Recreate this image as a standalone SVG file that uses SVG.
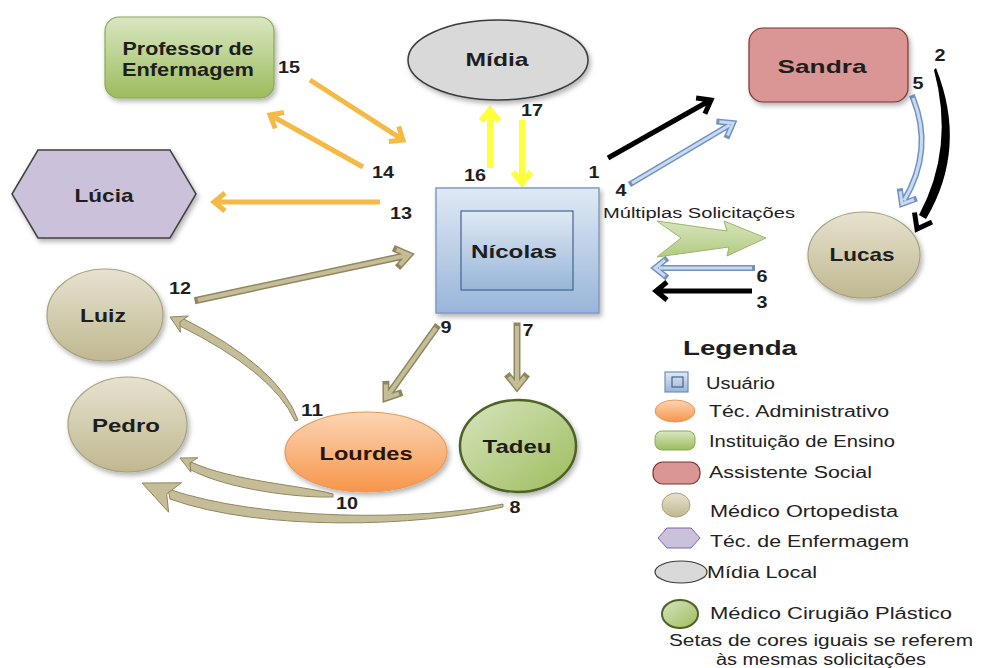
<svg xmlns="http://www.w3.org/2000/svg" width="987" height="668" viewBox="0 0 987 668">
<defs>
  <linearGradient id="gGreen" x1="0" y1="0" x2="0" y2="1"><stop offset="0" stop-color="#d9e7c1"/><stop offset="1" stop-color="#9cbc5d"/></linearGradient>
  <linearGradient id="gBlue" x1="0" y1="0" x2="0" y2="1"><stop offset="0" stop-color="#e0e9f4"/><stop offset="1" stop-color="#98b5d9"/></linearGradient>
  <linearGradient id="gKhaki" x1="0" y1="0" x2="0" y2="1"><stop offset="0" stop-color="#e6e2cf"/><stop offset="1" stop-color="#c0b890"/></linearGradient>
  <linearGradient id="gOrange" x1="0" y1="0" x2="0" y2="1"><stop offset="0" stop-color="#fdd5b3"/><stop offset="1" stop-color="#f7954a"/></linearGradient>
  <linearGradient id="gTadeu" x1="0" y1="0" x2="1" y2="1"><stop offset="0" stop-color="#d7e5bf"/><stop offset="1" stop-color="#9dbc5c"/></linearGradient>
  <linearGradient id="gMulti" x1="0" y1="0" x2="0" y2="1"><stop offset="0" stop-color="#d6e4bb"/><stop offset="1" stop-color="#b2cb80"/></linearGradient>
  <filter id="sh" x="-20%" y="-20%" width="150%" height="150%">
    <feDropShadow dx="2" dy="3" stdDeviation="2.5" flood-color="#000" flood-opacity="0.3"/>
  </filter>

  <!-- connector geometry, reused for outlined (double) strokes -->
  <path id="a4" d="M632,183 L729.6,125 M727.6,135.5 L733,123 L719.4,121.7"/>
  <path id="a6" d="M752,268 L659,268 M665,260 L655,268 L665,276"/>
  <path id="a5" d="M913,98 Q934,150 904,200.6 M914,199.5 L902,204 L900.2,191.3"/>
  <path id="a12" d="M198,300 L405,255.8 M399.9,265.1 L409,255 L396.5,249.5"/>
  <path id="a9" d="M436,328 L388.3,394.7 M398.9,393.6 L386,398 L385.9,384.4"/>
  <path id="a7" d="M517,326 L517,383 M509,377 L517,387 L525,377"/>
</defs>
<style>
  text { font-family: "Liberation Sans", Arial, sans-serif; fill: #1e1e1e; }
  .nl { font-size: 19px; font-weight: bold; text-anchor: middle; }
  .num { font-size: 16px; font-weight: bold; text-anchor: middle; }
  .lg { font-size: 16px; fill: #222; }
  .or { fill: none; stroke: #f5b945; stroke-width: 5; stroke-linejoin: miter; }
  .ye { fill: none; stroke: #ffff3c; stroke-width: 6; stroke-linejoin: miter; }
  .bk { fill: none; stroke: #000; stroke-width: 5; stroke-linejoin: miter; }
  .bo { fill: none; stroke: #7193bf; stroke-width: 6; stroke-linecap: square; stroke-linejoin: miter; }
  .bi { fill: none; stroke: #c8daf0; stroke-width: 3; stroke-linejoin: miter; }
  .ko { fill: none; stroke: #8f875f; stroke-width: 7; stroke-linecap: square; stroke-linejoin: miter; }
  .ki { fill: none; stroke: #c4bd97; stroke-width: 4; stroke-linejoin: miter; }
  .kf { fill: #c4bd97; stroke: #8f875f; stroke-width: 1; }
  .khaki { fill: url(#gKhaki); stroke: #a8a17b; stroke-width: 1.2; filter: url(#sh); }
</style>

<rect width="987" height="668" fill="#ffffff"/>

<!-- connectors -->
<g id="connectors">
  <!-- orange: 13, 14, 15 -->
  <path class="or" d="M310,80 L401,138.7 M388.9,141.6 L403,140 L398.7,126.4"/>
  <path class="or" d="M363,167 L272,116 M284,112.5 L270,115 L275.2,128.3"/>
  <path class="or" d="M380,202 L216,202 M225,193 L214,202 L225,211"/>
  <!-- yellow: 16, 17 -->
  <path class="ye" d="M490,168 L490,112 M481,121 L490,110 L499,121"/>
  <path class="ye" d="M522,120 L522,181 M513,172 L522,183 L531,172"/>
  <!-- black: 1, 2, 3 -->
  <path class="bk" d="M608,158 L709,101 M704.9,113.7 L711,100 L696.1,98.1"/>
  <path fill="#000" d="M936,68 Q968,148 926,219 L919,215 Q955,148 934,70 Z"/>
  <path class="bk" d="M932,222 L917,229 L914.5,212.5"/>
  <path class="bk" d="M752,291 L658,291 M667,282 L656,291 L667,300"/>
  <!-- light blue: 4, 5, 6 -->
  <use href="#a4" class="bo"/><use href="#a4" class="bi"/>
  <use href="#a5" class="bo"/><use href="#a5" class="bi"/>
  <use href="#a6" class="bo"/><use href="#a6" class="bi"/>
  <!-- khaki straight: 7, 9, 12 -->
  <use href="#a12" class="ko"/><use href="#a12" class="ki"/>
  <use href="#a9" class="ko"/><use href="#a9" class="ki"/>
  <use href="#a7" class="ko"/><use href="#a7" class="ki"/>
  <!-- khaki curved: 11, 10, 8 -->
  <path class="kf" d="M298,420 Q279,367 182,318 L178,325 Q273,372 295,421 Z"/>
  <path class="kf" d="M170,317 L188.4,316 L179.9,321.9 L180.4,332.2 Z"/>
  <path class="kf" d="M333,494 C300,485 232,481 191,462 L189,469 C228,490 300,498 333,497 Z"/>
  <path class="kf" d="M180,458 L197.9,457.8 L189.9,462.8 L190.9,472.2 Z"/>
  <path class="kf" d="M503,504 C420,521 262,521 168,489 L170,499 C262,532 420,527 503,507 Z"/>
  <path class="kf" d="M142,483 L181.4,482.8 L166.7,493.9 L168.6,512.2 Z"/>
  <!-- multiple requests -->
  <polygon points="657,221 727,231 724,221 766,238 727,256 729,247 657,257 681,238" fill="url(#gMulti)" stroke="#9db56c" stroke-width="1"/>
  <text x="603" y="218" font-size="14" textLength="192" lengthAdjust="spacingAndGlyphs">Múltiplas Solicitações</text>
  <!-- request numbers -->
  <text class="num" x="289" y="73" textLength="22" lengthAdjust="spacingAndGlyphs">15</text>
  <text class="num" x="383" y="178" textLength="22" lengthAdjust="spacingAndGlyphs">14</text>
  <text class="num" x="401" y="219" textLength="22" lengthAdjust="spacingAndGlyphs">13</text>
  <text class="num" x="475" y="181" textLength="22" lengthAdjust="spacingAndGlyphs">16</text>
  <text class="num" x="532" y="116" textLength="22" lengthAdjust="spacingAndGlyphs">17</text>
  <text class="num" x="594" y="178" textLength="11" lengthAdjust="spacingAndGlyphs">1</text>
  <text class="num" x="621" y="196" textLength="11" lengthAdjust="spacingAndGlyphs">4</text>
  <text class="num" x="940" y="61" textLength="11" lengthAdjust="spacingAndGlyphs">2</text>
  <text class="num" x="918" y="89" textLength="11" lengthAdjust="spacingAndGlyphs">5</text>
  <text class="num" x="762" y="282" textLength="11" lengthAdjust="spacingAndGlyphs">6</text>
  <text class="num" x="762" y="308" textLength="11" lengthAdjust="spacingAndGlyphs">3</text>
  <text class="num" x="180" y="294" textLength="22" lengthAdjust="spacingAndGlyphs">12</text>
  <text class="num" x="446" y="333" textLength="11" lengthAdjust="spacingAndGlyphs">9</text>
  <text class="num" x="528" y="336" textLength="11" lengthAdjust="spacingAndGlyphs">7</text>
  <text class="num" x="312" y="416" textLength="22" lengthAdjust="spacingAndGlyphs">11</text>
  <text class="num" x="347" y="509" textLength="22" lengthAdjust="spacingAndGlyphs">10</text>
  <text class="num" x="515" y="513" textLength="11" lengthAdjust="spacingAndGlyphs">8</text>
</g>

<!-- nodes -->
<g id="professor">
  <rect x="105" y="17" width="169" height="81" rx="14" fill="url(#gGreen)" stroke="#8aa957" stroke-width="1.2" filter="url(#sh)"/>
  <text class="nl" x="188" y="55" font-size="18" textLength="131" lengthAdjust="spacingAndGlyphs">Professor de</text>
  <text class="nl" x="188" y="76" font-size="18" textLength="132" lengthAdjust="spacingAndGlyphs">Enfermagem</text>
</g>
<g id="midia">
  <ellipse cx="498" cy="60" rx="90" ry="40" fill="#d9d9d9" stroke="#3a3a3a" stroke-width="1.5" filter="url(#sh)"/>
  <text class="nl" x="497" y="66" textLength="63" lengthAdjust="spacingAndGlyphs">Mídia</text>
</g>
<g id="sandra">
  <rect x="749" y="28" width="159" height="74" rx="14" fill="#d99694" stroke="#7f3331" stroke-width="1.2" filter="url(#sh)"/>
  <text class="nl" x="822" y="73" textLength="89" lengthAdjust="spacingAndGlyphs">Sandra</text>
</g>
<g id="lucia">
  <polygon points="12,194 38,150 170,150 196,194 170,238 38,238" fill="#ccc1da" stroke="#404040" stroke-width="1.5" filter="url(#sh)"/>
  <text class="nl" x="104" y="202" font-size="20" textLength="59" lengthAdjust="spacingAndGlyphs">Lúcia</text>
</g>
<g id="nicolas">
  <rect x="436" y="188" width="163" height="125" fill="url(#gBlue)" stroke="#7e9cc6" stroke-width="1.5" filter="url(#sh)"/>
  <rect x="461" y="211" width="112" height="79" fill="url(#gBlue)" stroke="#41648f" stroke-width="1.2"/>
  <text class="nl" x="514" y="258" font-size="20" textLength="86" lengthAdjust="spacingAndGlyphs">Nícolas</text>
</g>
<g id="lucas">
  <ellipse class="khaki" cx="864" cy="255" rx="56" ry="43"/>
  <text class="nl" x="862" y="261" textLength="65" lengthAdjust="spacingAndGlyphs">Lucas</text>
</g>
<g id="luiz">
  <ellipse class="khaki" cx="105" cy="315" rx="58" ry="46"/>
  <text class="nl" x="103" y="322" textLength="46" lengthAdjust="spacingAndGlyphs">Luiz</text>
</g>
<g id="pedro">
  <ellipse class="khaki" cx="127.5" cy="424.5" rx="59.5" ry="47.5"/>
  <text class="nl" x="126" y="432" textLength="68" lengthAdjust="spacingAndGlyphs">Pedro</text>
</g>
<g id="lourdes">
  <ellipse cx="366" cy="452" rx="81" ry="40" fill="url(#gOrange)" stroke="#e59a5c" stroke-width="1.2" filter="url(#sh)"/>
  <text class="nl" x="366" y="460" textLength="93" lengthAdjust="spacingAndGlyphs" style="fill:#2a1508">Lourdes</text>
</g>
<g id="tadeu">
  <ellipse cx="518" cy="446" rx="58" ry="46" fill="url(#gTadeu)" stroke="#4f6228" stroke-width="2.5" filter="url(#sh)"/>
  <text class="nl" x="517" y="453" textLength="69" lengthAdjust="spacingAndGlyphs">Tadeu</text>
</g>

<!-- legend -->
<g id="legenda">
  <text x="683" y="355" font-size="21" font-weight="bold" textLength="114" lengthAdjust="spacingAndGlyphs">Legenda</text>
  <rect x="665" y="372" width="23" height="20" fill="url(#gBlue)" stroke="#6f8fb9" stroke-width="1.2"/>
  <rect x="672" y="377" width="11" height="10" fill="none" stroke="#41648f" stroke-width="1.2"/>
  <text class="lg" x="706" y="389" textLength="69" lengthAdjust="spacingAndGlyphs">Usuário</text>
  <ellipse cx="675" cy="411" rx="20" ry="11" fill="url(#gOrange)" stroke="#e59a5c" stroke-width="1"/>
  <text class="lg" x="709" y="417" textLength="180" lengthAdjust="spacingAndGlyphs">Téc. Administrativo</text>
  <rect x="655" y="431" width="40" height="19" rx="7" fill="url(#gGreen)" stroke="#8aa957" stroke-width="1"/>
  <text class="lg" x="709" y="447" textLength="186" lengthAdjust="spacingAndGlyphs">Instituição de Ensino</text>
  <rect x="653" y="462" width="47" height="22" rx="10" fill="#d99694" stroke="#7f3331" stroke-width="1.2"/>
  <text class="lg" x="709" y="478" textLength="163" lengthAdjust="spacingAndGlyphs">Assistente Social</text>
  <ellipse cx="676" cy="505" rx="14" ry="12" fill="url(#gKhaki)" stroke="#a8a17b" stroke-width="1"/>
  <text class="lg" x="710" y="517" textLength="188" lengthAdjust="spacingAndGlyphs">Médico Ortopedista</text>
  <polygon points="658,538 667,528 691,528 700,538 691,548 667,548" fill="#ccc1da" stroke="#8064a2" stroke-width="1"/>
  <text class="lg" x="710" y="547" textLength="199" lengthAdjust="spacingAndGlyphs">Téc. de Enfermagem</text>
  <ellipse cx="681" cy="572" rx="26" ry="11" fill="#d9d9d9" stroke="#3a3a3a" stroke-width="1.2"/>
  <text class="lg" x="707" y="578" textLength="110" lengthAdjust="spacingAndGlyphs">Mídia Local</text>
  <ellipse cx="680" cy="614" rx="18" ry="14" fill="url(#gTadeu)" stroke="#4f6228" stroke-width="2"/>
  <text class="lg" x="710" y="619" textLength="242" lengthAdjust="spacingAndGlyphs">Médico Cirugião Plástico</text>
  <text class="lg" x="821" y="646" text-anchor="middle" textLength="304" lengthAdjust="spacingAndGlyphs">Setas de cores iguais se referem</text>
  <text class="lg" x="821" y="665" text-anchor="middle" textLength="210" lengthAdjust="spacingAndGlyphs">às mesmas solicitações</text>
</g>
</svg>
